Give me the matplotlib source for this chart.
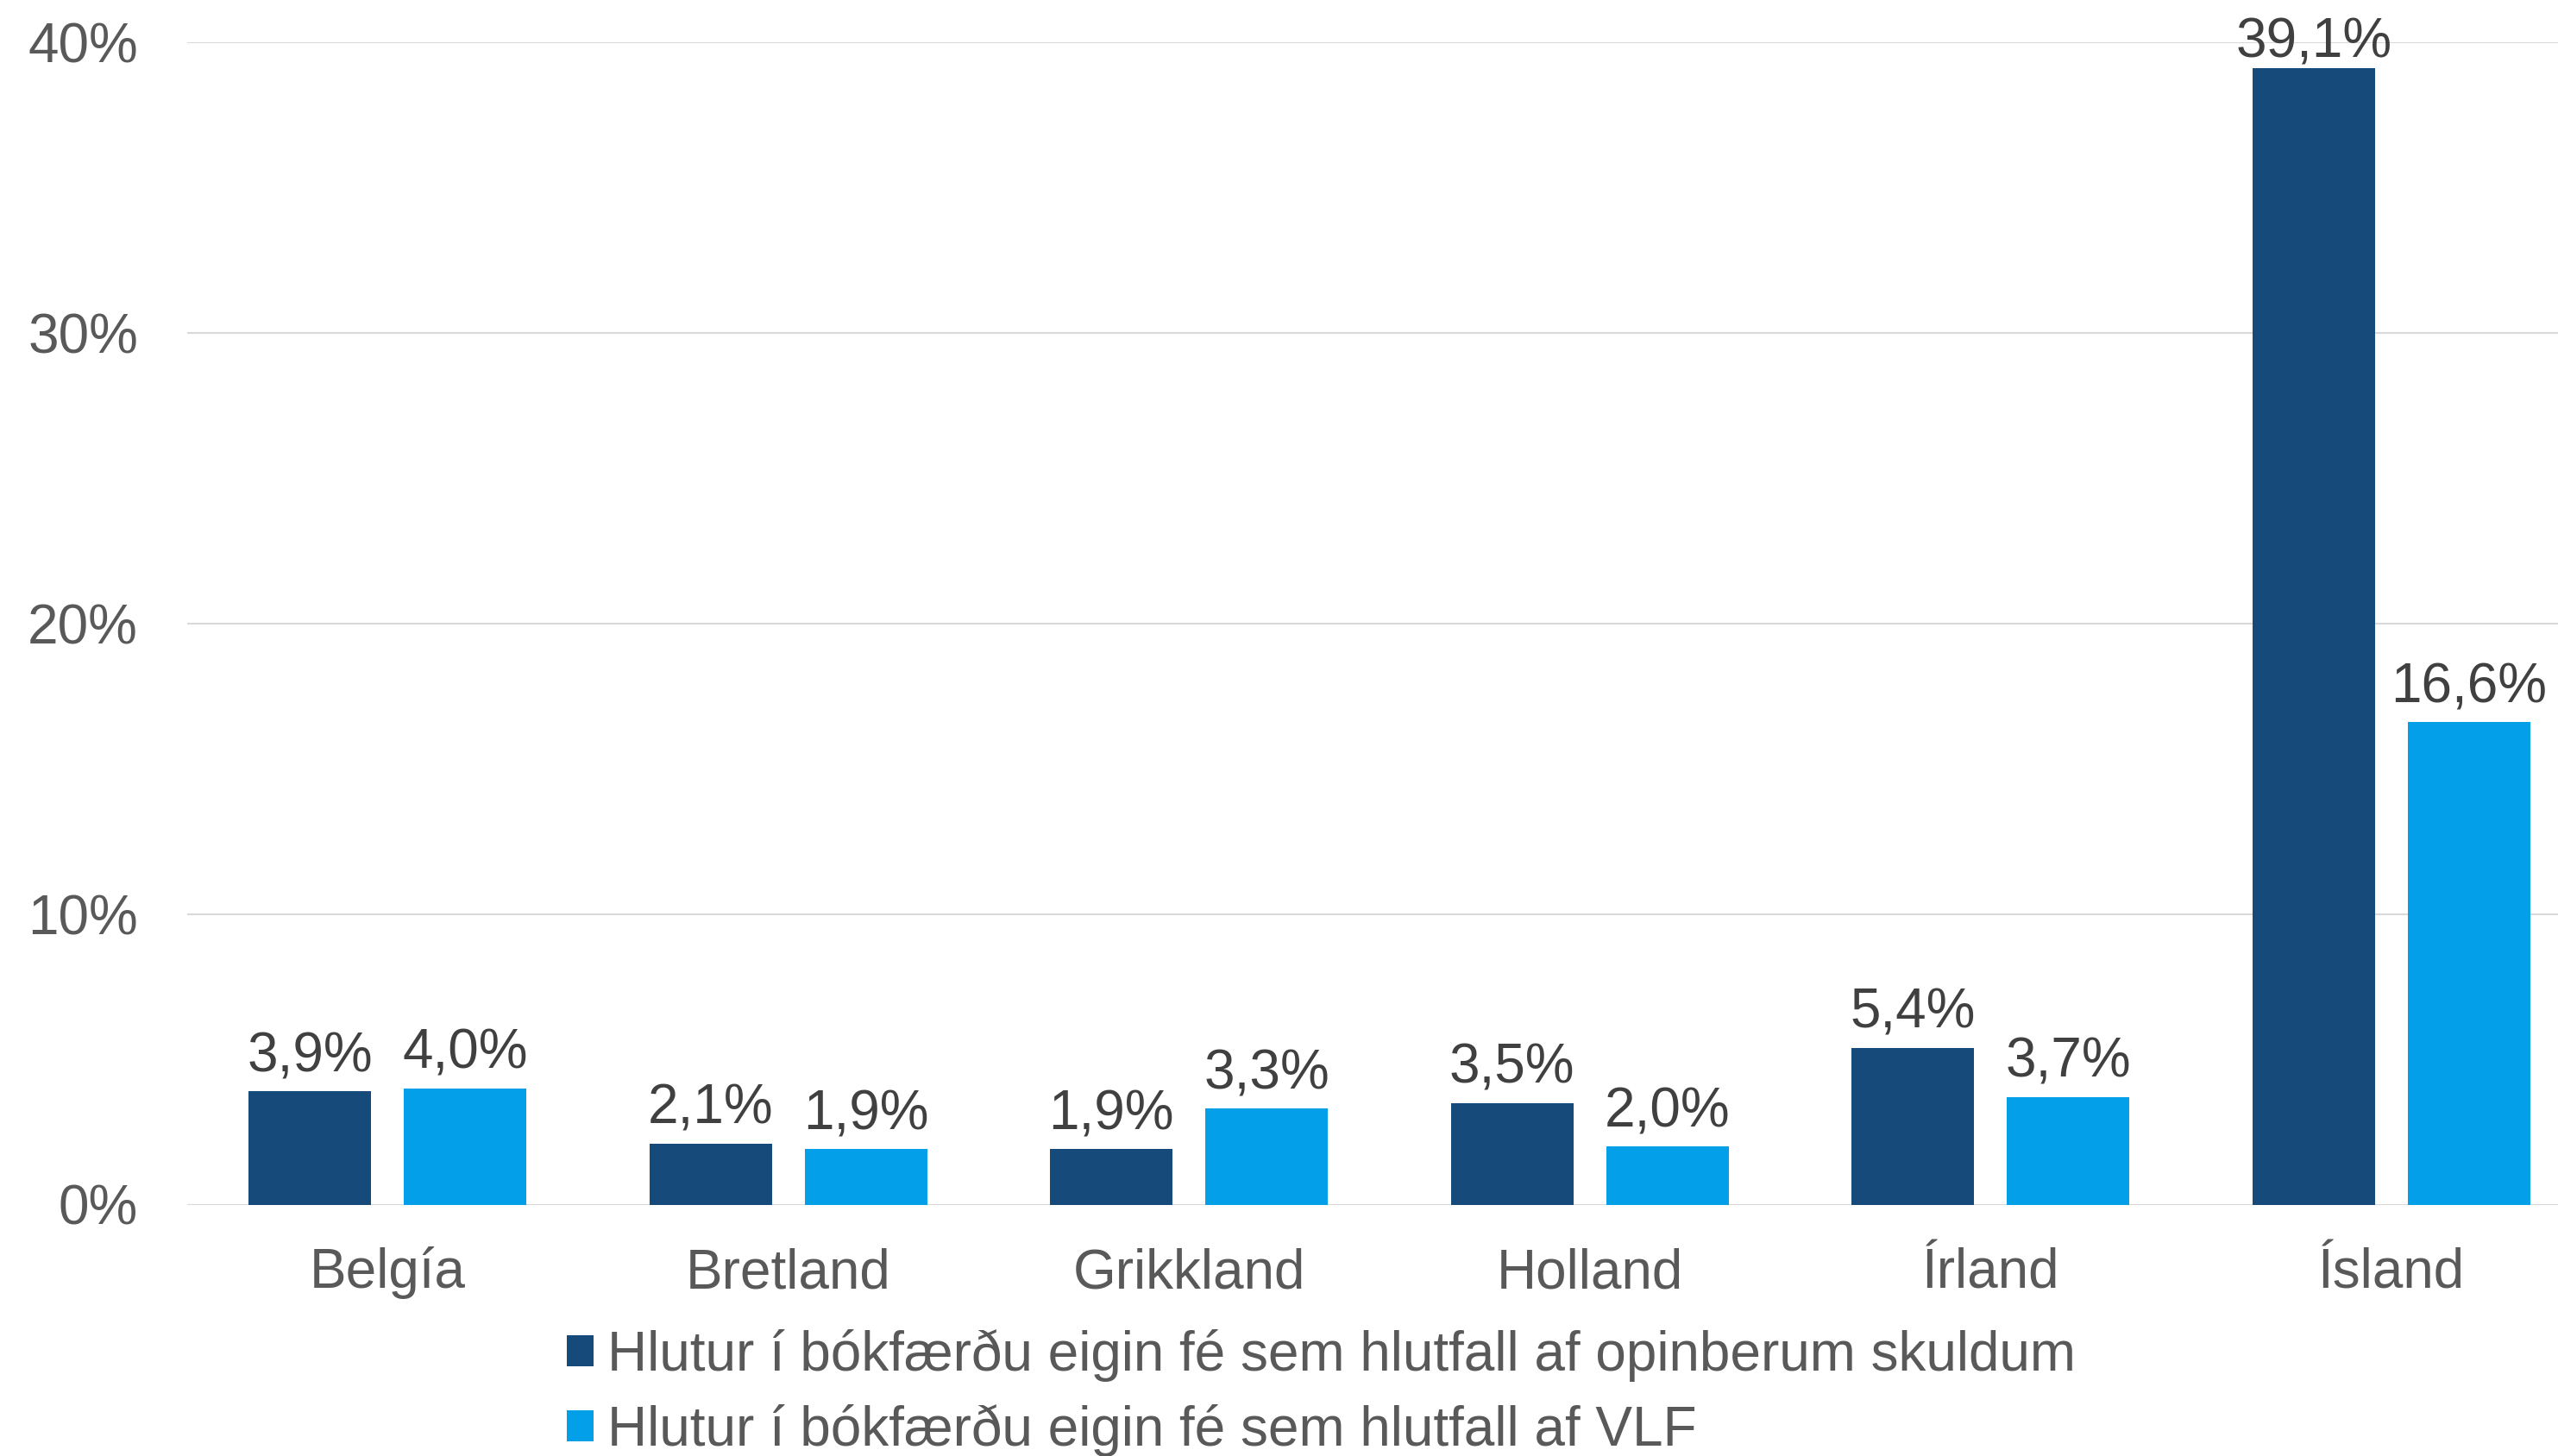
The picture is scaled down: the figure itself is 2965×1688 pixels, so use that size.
import matplotlib
matplotlib.use("Agg")
import matplotlib.pyplot as plt
from matplotlib.patches import Patch
import numpy as np

categories = ["Belgía", "Bretland", "Grikkland", "Holland", "Írland", "Ísland"]
debt_share = [3.9, 2.1, 1.9, 3.5, 5.4, 39.1]   # % of public debt
gdp_share = [4.0, 1.9, 3.3, 2.0, 3.7, 16.6]    # % of GDP
series_names = [
    "Hlutur í bókfærðu eigin fé sem hlutfall af opinberum skuldum",
    "Hlutur í bókfærðu eigin fé sem hlutfall af VLF",
]
yticks = [0, 10, 20, 30, 40]
ytick_labels = ["0%", "10%", "20%", "30%", "40%"]

DARK = "#164a7b"
LIGHT = "#03a0e9"
LABEL_C = "#404040"
TICK_C = "#595959"
GRID_C = "#d9d9d9"

plt.rcParams["font.family"] = ["Liberation Sans", "DejaVu Sans"]
FS = 46

W, H = 2965, 1688
DPI = 100
fig = plt.figure(figsize=(W / DPI, H / DPI), dpi=DPI)

ax_left, ax_right = 217, 2965
y0_px, y40_px = 1396.5, 49
cat_px = 464.5
ax = fig.add_axes([ax_left / W, (H - y0_px) / H, (ax_right - ax_left) / W, (y0_px - y40_px) / H])

x = np.arange(len(categories))
bw = 142 / cat_px
off = 90 / cat_px
b1 = ax.bar(x - off, debt_share, width=bw, color=DARK, zorder=3)
b2 = ax.bar(x + off, gdp_share, width=bw, color=LIGHT, zorder=3)

ax.set_xlim(-0.5, -0.5 + (ax_right - ax_left) / cat_px)
ax.set_ylim(0, 40)

for s in ax.spines.values():
    s.set_visible(False)
ax.set_yticks(yticks)
ax.set_yticklabels(ytick_labels)
ax.yaxis.grid(True, color=GRID_C, linewidth=1.5, zorder=0)
ax.set_axisbelow(True)
ax.tick_params(axis="y", length=0, pad=57 * 72 / DPI, labelsize=FS, labelcolor=TICK_C)
ax.set_xticks(x)
ax.set_xticklabels(categories)
ax.tick_params(axis="x", length=0, pad=97 * 72 / DPI, labelsize=FS, labelcolor=TICK_C)
for lbl in ax.get_xticklabels():
    lbl.set_va("baseline")

def fmt(v):
    return f"{v:.1f}".replace(".", ",") + "%"

px_per_unit = (y0_px - y40_px) / 40.0
cap_px = 46
for xs, vals in ((x - off, debt_share), (x + off, gdp_share)):
    for xi, v in zip(xs, vals):
        bar_top_px = y0_px - v * px_per_unit
        gap = 23
        if bar_top_px - gap - cap_px < 20:
            gap = bar_top_px - cap_px - 20
        ax.annotate(fmt(v), xy=(xi, v), xytext=(0, gap * 72 / DPI), textcoords="offset points",
                    ha="center", va="baseline", fontsize=FS, color=LABEL_C, zorder=5,
                    annotation_clip=False)

handles = [Patch(facecolor=DARK, edgecolor="none"), Patch(facecolor=LIGHT, edgecolor="none")]
leg = fig.legend(handles, series_names, loc="upper left",
                 bbox_to_anchor=(657 / W, (H - 1541) / H), frameon=False,
                 fontsize=FS, handlelength=0.49, handleheight=0.49, handletextpad=0.25,
                 labelspacing=0.4, borderpad=0, borderaxespad=0)
for t in leg.get_texts():
    t.set_color(TICK_C)

fig.savefig("out.png", dpi=DPI)
